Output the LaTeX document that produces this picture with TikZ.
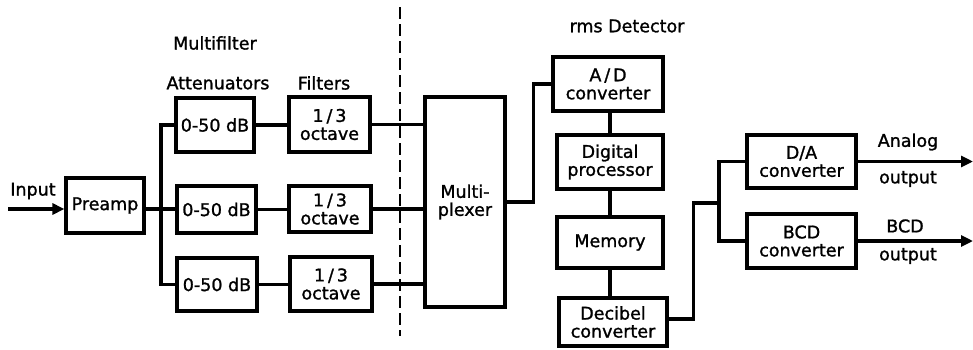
\documentclass[tikz,border=0pt]{standalone}
\usepackage{fontspec}
\setmainfont{DejaVu Sans}[FakeBold=1.3]
\usetikzlibrary{arrows.meta,calc}
\begin{document}
\begin{tikzpicture}[x=1pt,y=-1pt,
  every node/.style={font=\fontsize{17.5}{18}\selectfont},
  blk/.style={draw,line width=3.2pt,align=center,inner sep=0pt},
  wire/.style={line width=3.4pt},
  lbl/.style={inner sep=0pt},
  tip/.style={-{Triangle[length=12pt,width=11pt]}}]
\useasboundingbox (0,0) rectangle (973,349);
% boxes
\node[blk,minimum width=78pt,minimum height=55pt] (pre) at (105,205.5) {Preamp};
\node[blk,minimum width=78pt,minimum height=54pt] (at1) at (215,125) {0-50 dB};
\node[blk,minimum width=79pt,minimum height=47pt] (at2) at (216.5,209.5) {0-50 dB};
\node[blk,minimum width=80pt,minimum height=53pt] (at3) at (217,284.5) {0-50 dB};
\node[blk,minimum width=81pt,minimum height=55pt] (fi1) at (329.5,124.5) {1\,/\,3\\octave};
\node[blk,minimum width=82pt,minimum height=46pt] (fi2) at (330,209) {1\,/\,3\\octave};
\node[blk,minimum width=82pt,minimum height=54pt] (fi3) at (331,284) {1\,/\,3\\octave};
\node[blk,minimum width=80pt,minimum height=210pt] (mux) at (465,202) {Multi-\\plexer};
\node[blk,minimum width=110pt,minimum height=54pt] (ad) at (608,84) {A\,/\,D\\converter};
\node[blk,minimum width=106pt,minimum height=54pt] (dp) at (610,162) {Digital\\processor};
\node[blk,minimum width=106pt,minimum height=51pt] (mem) at (610,242.5) {Memory};
\node[blk,minimum width=108pt,minimum height=48pt] (db) at (613,322) {Decibel\\converter};
\node[blk,minimum width=109pt,minimum height=53pt] (da) at (801.5,161.5) {D/A\\converter};
\node[blk,minimum width=109pt,minimum height=54pt] (bcd) at (801.5,241) {BCD\\converter};
% labels
\node[lbl] (tin) at (33,191) {Input};
\node[lbl] (tmf) at (215,43) {Multifilter};
\node[lbl] (tat) at (218,83) {Attenuators};
\node[lbl] (tfi) at (324,83) {Filters};
\node[lbl] (trms) at (627,26) {rms Detector};
\node[lbl] (tan) at (908,142) {Analog};
\node[lbl] (to1) at (908,179) {output};
\node[lbl] (tbc) at (905,226) {BCD};
\node[lbl] (to2) at (908,256) {output};
% coordinates
\coordinate (in) at (8,209);
\coordinate (jx) at (161,209);
\coordinate (dtop) at (400,7);
\coordinate (dbot) at (400,336);
\coordinate (jb) at (719,203);
\coordinate (oa) at (973,161.5);
\coordinate (ob) at (973,241);
% wires
\draw[wire,tip] (in) -- (in -| pre.west);
\draw[wire] (pre.east |- jx) -- (jx);
\draw[wire] (at1.west) -| (jx) |- (at3.west);
\draw[wire] (jx) -- (jx -| at2.west);
\draw[wire] (at1.east) -- (at1.east -| fi1.west);
\draw[wire] (at2.east) -- (at2.east -| fi2.west);
\draw[wire] (at3.east) -- (at3.east -| fi3.west);
\draw[wire] (fi1.east) -- (fi1.east -| mux.west);
\draw[wire] (fi2.east) -- (fi2.east -| mux.west);
\draw[wire] (fi3.east) -- (fi3.east -| mux.west);
\draw[wire] (mux.east) -- ++(27,0) |- (ad.west);
\draw[wire] (dp.north |- ad.south) -- (dp.north);
\draw[wire] (dp.south) -- (mem.north);
\draw[wire] (mem.south) -- (mem.south |- db.north);
\draw[wire] ([yshift=3pt]db.east) -- ++(25,0) |- (jb);
\draw[wire] (da.west) -| (jb) |- (bcd.west);
\draw[wire,tip] (da.east) -- (oa);
\draw[wire,tip] (bcd.east) -- (ob);
\draw[line width=2.4pt,dash pattern=on 12pt off 5pt] (dtop) -- (dbot);
\end{tikzpicture}
\end{document}
